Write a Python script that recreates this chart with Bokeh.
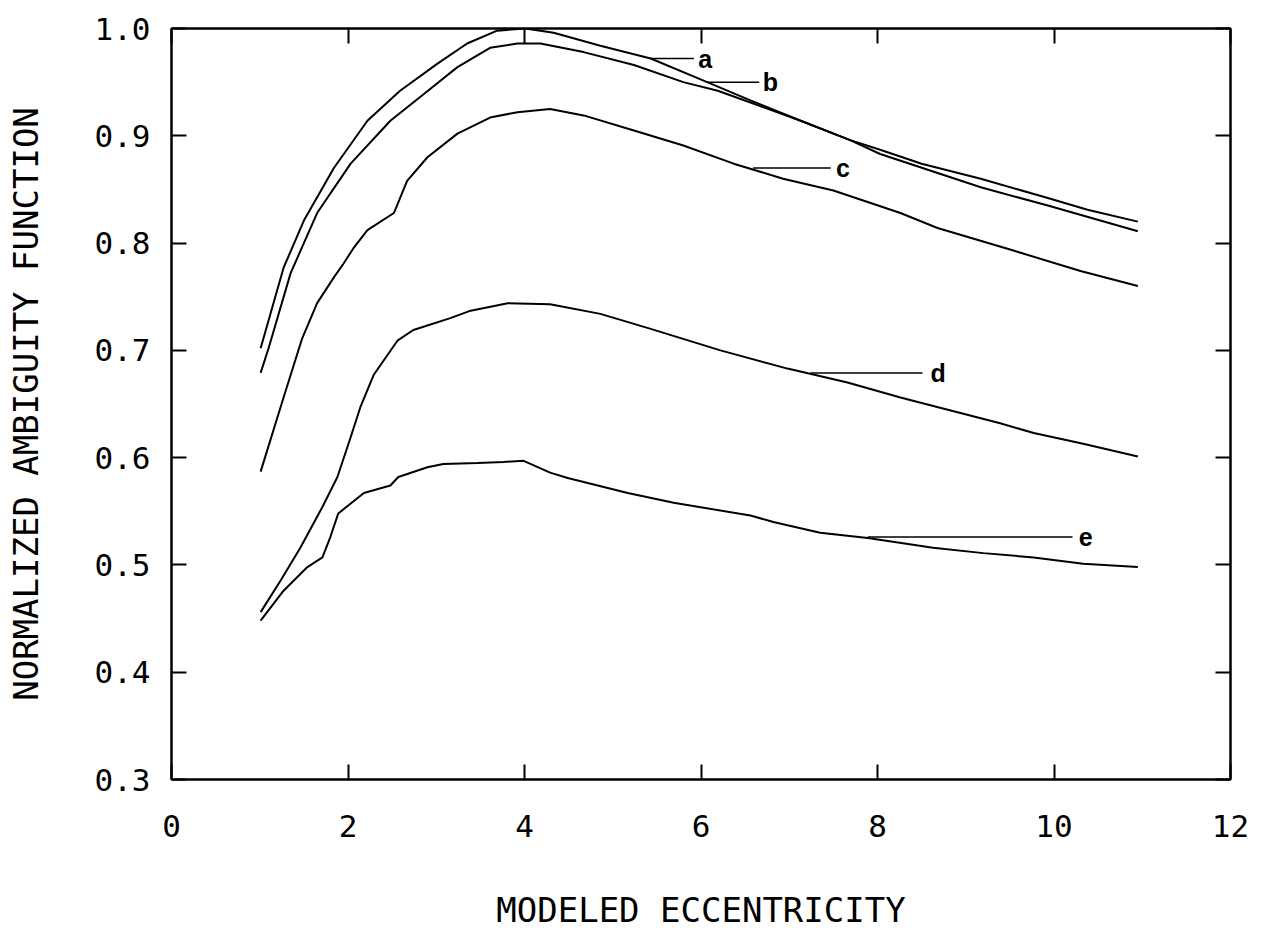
from bokeh.plotting import figure
from bokeh.models import Range1d, LinearAxis, FixedTicker
from bokeh.core.properties import value
from bokeh.embed import file_html
from bokeh.resources import INLINE

# ---- data ----
a_x = [1.01, 1.27, 1.50, 1.84, 2.22, 2.59, 3.01, 3.35, 3.69, 4.01, 4.33, 4.86, 5.43, 6.07, 6.56, 7.13, 7.69, 8.03, 8.50, 9.17, 9.93, 10.38, 10.95]
a_y = [0.702, 0.777, 0.821, 0.870, 0.914, 0.942, 0.967, 0.986, 0.998, 1.000, 0.996, 0.984, 0.972, 0.950, 0.933, 0.914, 0.896, 0.887, 0.874, 0.860, 0.842, 0.831, 0.820]

b_x = [1.01, 1.10, 1.35, 1.65, 2.03, 2.48, 2.86, 3.24, 3.61, 3.92, 4.18, 4.67, 5.24, 5.80, 6.19, 6.56, 7.13, 7.69, 8.03, 9.17, 9.93, 10.95]
b_y = [0.679, 0.702, 0.772, 0.828, 0.874, 0.914, 0.939, 0.964, 0.982, 0.986, 0.986, 0.978, 0.966, 0.950, 0.942, 0.931, 0.914, 0.896, 0.883, 0.852, 0.835, 0.811]

c_x = [1.01, 1.27, 1.48, 1.65, 1.84, 1.95, 2.06, 2.22, 2.52, 2.67, 2.90, 3.24, 3.61, 3.92, 4.29, 4.67, 5.24, 5.80, 6.37, 6.93, 7.50, 8.26, 8.68, 9.54, 10.30, 10.95]
c_y = [0.587, 0.656, 0.711, 0.744, 0.768, 0.781, 0.795, 0.812, 0.828, 0.858, 0.880, 0.902, 0.917, 0.922, 0.925, 0.919, 0.905, 0.891, 0.874, 0.860, 0.849, 0.828, 0.814, 0.793, 0.774, 0.760]

d_x = [1.01, 1.24, 1.46, 1.71, 1.88, 2.03, 2.14, 2.29, 2.56, 2.74, 3.16, 3.39, 3.81, 4.29, 4.86, 5.43, 6.22, 6.98, 7.66, 8.26, 8.83, 9.39, 9.77, 10.33, 10.95]
d_y = [0.456, 0.486, 0.516, 0.554, 0.582, 0.619, 0.647, 0.677, 0.709, 0.719, 0.730, 0.737, 0.744, 0.743, 0.734, 0.720, 0.700, 0.683, 0.670, 0.656, 0.644, 0.632, 0.623, 0.613, 0.601]

e_x = [1.01, 1.27, 1.54, 1.71, 1.80, 1.89, 2.18, 2.48, 2.57, 2.90, 3.08, 3.47, 3.76, 3.99, 4.29, 4.49, 5.17, 5.69, 6.56, 6.82, 7.35, 7.89, 8.63, 9.20, 9.77, 10.33, 10.95]
e_y = [0.448, 0.476, 0.498, 0.507, 0.526, 0.548, 0.567, 0.574, 0.582, 0.591, 0.594, 0.595, 0.596, 0.597, 0.586, 0.581, 0.567, 0.558, 0.546, 0.540, 0.530, 0.525, 0.516, 0.511, 0.507, 0.501, 0.498]

# curve labels and their leader lines
label_text = ["a", "b", "c", "d", "e"]
leader_x0 = [5.43, 6.07, 6.59, 7.24, 7.89]
leader_x1 = [5.92, 6.66, 7.47, 8.51, 10.21]
leader_y = [0.972, 0.950, 0.870, 0.679, 0.526]
label_x = [5.97, 6.70, 7.53, 8.60, 10.28]

x_ticks = [0, 2, 4, 6, 8, 10, 12]
x_tick_labels = ["0", "2", "4", "6", "8", "10", "12"]
y_ticks = [0.3, 0.4, 0.5, 0.6, 0.7, 0.8, 0.9, 1.0]
y_tick_labels = ["0.3", "0.4", "0.5", "0.6", "0.7", "0.8", "0.9", "1.0"]

FONT = "DejaVu Sans Mono"

p = figure(width=1250, height=936, output_backend="svg", toolbar_location=None,
           x_range=Range1d(0, 12), y_range=Range1d(0.3, 1.0),
           min_border_left=171, min_border_top=28, min_border_right=20, min_border_bottom=157)
p.grid.visible = False
p.outline_line_color = "black"
p.outline_line_width = 2
p.background_fill_color = "white"
p.border_fill_color = "white"

for xs, ys in [(a_x, a_y), (b_x, b_y), (c_x, c_y), (d_x, d_y), (e_x, e_y)]:
    p.line(xs, ys, line_color="black", line_width=2)

p.segment(x0=leader_x0, y0=leader_y, x1=leader_x1, y1=leader_y, line_color="black", line_width=1.5)
p.text(x=label_x, y=leader_y, text=label_text, text_font=value("Liberation Sans"),
       text_font_style="bold", text_font_size="25px", text_baseline="middle", text_align="left",
       text_color="black")

xa = p.xaxis[0]
xa.ticker = FixedTicker(ticks=x_ticks)
xa.major_label_overrides = {t: l for t, l in zip(x_ticks, x_tick_labels)}
ya = p.yaxis[0]
ya.ticker = FixedTicker(ticks=y_ticks)
ya.major_label_overrides = {t: l for t, l in zip(y_ticks, y_tick_labels)}

for ax in (xa, ya):
    ax.major_tick_in = 15
    ax.major_tick_out = 0
    ax.minor_tick_in = 0
    ax.minor_tick_out = 0
    ax.major_tick_line_width = 2
    ax.axis_line_width = 2
    ax.major_label_text_font = FONT
    ax.major_label_text_font_size = "31px"
    ax.major_label_text_color = "black"
    ax.axis_label_text_font = FONT
    ax.axis_label_text_font_size = "34px"
    ax.axis_label_text_font_style = "normal"
    ax.axis_label_text_color = "black"

xa.axis_label = "MODELED ECCENTRICITY"
xa.major_label_standoff = 35
xa.axis_label_standoff = 50
ya.axis_label = "NORMALIZED AMBIGUITY FUNCTION"
ya.major_label_standoff = 21
ya.axis_label_standoff = 46

# top and right axes: ticks only
top = LinearAxis(ticker=FixedTicker(ticks=x_ticks),
                 major_label_overrides={t: "" for t in x_ticks},
                 major_tick_in=15, major_tick_out=0, minor_tick_in=0, minor_tick_out=0,
                 major_label_standoff=0,
                 major_tick_line_width=2, axis_line_width=2)
right = LinearAxis(ticker=FixedTicker(ticks=y_ticks),
                   major_label_overrides={t: "" for t in y_ticks},
                   major_tick_in=15, major_tick_out=0, minor_tick_in=0, minor_tick_out=0,
                   major_label_standoff=0,
                   major_tick_line_width=2, axis_line_width=2)
p.add_layout(top, "above")
p.add_layout(right, "right")

open("out.html", "w").write(file_html(p, INLINE))
